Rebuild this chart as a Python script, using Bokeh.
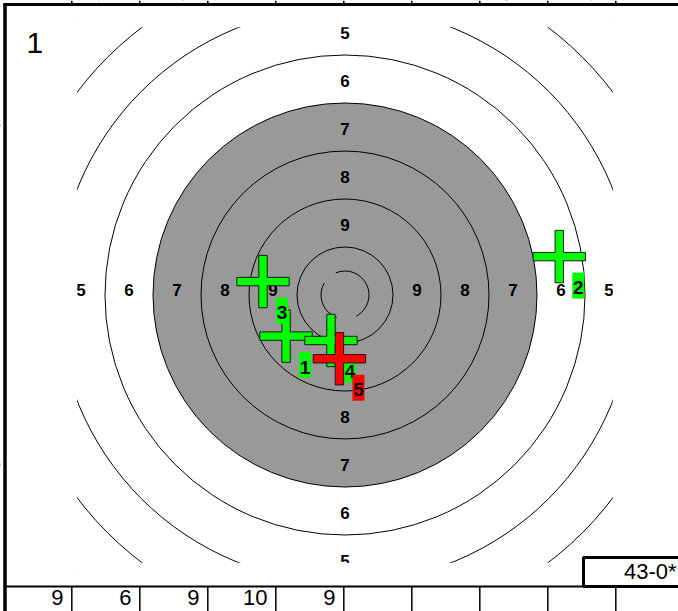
import numpy as np
from bokeh.plotting import figure
from bokeh.models import Range1d
from bokeh.core.properties import value
from bokeh.embed import file_html
from bokeh.resources import INLINE

# ---------------- data ----------------
series_label = "1"
ring_radii = [25, 50, 75, 125, 150, 175, 200]      # ring boundaries (mm)
black_radius = 100                                  # aiming black: rings 7-10 (mm)
inner_ten_radius = 12.5                             # mm
ring_values = [5, 6, 7, 8, 9]                       # ring numbers printed on the target
ring_label_dist = [137.5, 112.5, 87.5, 62.5, 37.5]  # mid-ring distances (mm)
shot_ids = [1, 2, 3, 4, 5]
shot_x = [-30.7, 111.6, -42.7, -7.3, -2.9]          # mm from centre
shot_y = [-21.4, 20.0, 7.0, -23.7, -33.2]
shot_scores = [9, 6, 9, 10, 9]
shot_colors = ["#00ff00", "#00ff00", "#00ff00", "#00ff00", "#ff0000"]
inner_tens = 0

# ---------------- geometry helpers (page pixels -> mm) ----------------
W, H = 678, 611
S = 1.92                 # pixels per mm
CX, CY = 344.5, 294.5    # target centre on the page
FIX = 0.4                # baseline correction (em) for the svg text renderer


def mx(px):
    return (px - CX) / S


def my(py):
    return (CY - py) / S


def base(py, size):
    """page-pixel baseline -> data y, corrected for the renderer."""
    return my(py - FIX * size)


FONT = value("Liberation Sans")

p = figure(width=W, height=H,
           x_range=Range1d(mx(0), mx(W)), y_range=Range1d(my(H), my(0)),
           output_backend="svg", toolbar_location=None, min_border=0,
           x_axis_location=None, y_axis_location=None,
           outline_line_color=None, background_fill_color="white",
           border_fill_color="white")
p.grid.grid_line_color = None

# aiming black (grey) and rings
p.circle(x=[0], y=[0], radius=black_radius, fill_color="#999999",
         line_color="black", line_width=1)
n = len(ring_radii)
p.circle(x=[0] * n, y=[0] * n, radius=ring_radii, fill_color=None,
         line_color="black", line_width=1)
p.arc(x=[0, 0], y=[0, 0], radius=inner_ten_radius,
      start_angle=[np.radians(-62), np.radians(150)],
      end_angle=[np.radians(112.5), np.radians(250)],
      direction="anticlock", line_color="black", line_width=1)

# ring numbers
LS = 17
lab_x, lab_y, lab_t = [], [], []
for v, d in zip(ring_values, ring_label_dist):
    for sgn in (-1, 1):                      # left / right
        lab_x.append(sgn * d)
        lab_y.append(base(CY + 2.0, LS))
        lab_t.append(str(v))
    for sgn in (1, -1):                      # top / bottom
        lab_x.append(0)
        lab_y.append(base(CY - sgn * d * S + 8.8, LS))
        lab_t.append(str(v))
p.text(x=lab_x, y=lab_y, text=lab_t, text_font=FONT, text_font_style="bold",
       text_font_size=f"{LS}px", text_align="center", text_baseline="alphabetic",
       text_color="black")

# clipping masks (target printed area is a square of +-139.5 mm)
L = 139.5
big = 400
p.quad(left=[-big, L, -L, -L], right=[-L, big, L, L],
       top=[big, big, big, -L], bottom=[-big, -big, L, -big],
       fill_color="white", line_color=None)

# frame
p.segment(x0=[mx(4.5)], y0=[my(3)], x1=[mx(4.5)], y1=[my(H + 5)],
          line_color="black", line_width=3.5)
p.segment(x0=[mx(3)], y0=[my(4)], x1=[mx(W + 5)], y1=[my(4)],
          line_color="black", line_width=3)
cell_w = 68
cell_edges = [71.3 + cell_w * k for k in range(9)]
p.segment(x0=[mx(e) for e in cell_edges], y0=[my(0)] * 9,
          x1=[mx(e) for e in cell_edges], y1=[my(4)] * 9,
          line_color="black", line_width=1.5)
p.segment(x0=[mx(4)], y0=[my(586)], x1=[mx(W + 5)], y1=[my(586)],
          line_color="black", line_width=2)
p.segment(x0=[mx(e) for e in cell_edges], y0=[my(586)] * 9,
          x1=[mx(e) for e in cell_edges], y1=[my(H + 5)] * 9,
          line_color="black", line_width=1.5)

# series number
p.text(x=[mx(26)], y=[base(54, 30)], text=[series_label], text_font=FONT,
       text_font_size="30px", text_align="left", text_baseline="alphabetic",
       text_color="black")

# shot scores in the table
p.text(x=[mx(cell_edges[k] - 8.3) for k in range(len(shot_scores))],
       y=[base(606, 22)] * len(shot_scores), text=[str(s) for s in shot_scores],
       text_font=FONT, text_font_size="22px", text_align="right",
       text_baseline="alphabetic", text_color="black")

# total box
p.quad(left=[mx(583)], right=[mx(W + 10)], top=[my(557)], bottom=[my(586)],
       fill_color="white", line_color="black", line_width=3)
p.text(x=[mx(676)], y=[base(580, 22)], text=[f"{sum(shot_scores)}-{inner_tens}*"],
       text_font=FONT, text_font_size="22px", text_align="right",
       text_baseline="alphabetic", text_color="black")

# shots: cross + numbered tag
a = 26.2 / S   # half arm length
t = 4.2 / S    # half bar thickness
cross_dx = [-t, t, t, a, a, t, t, -t, -t, -a, -a, -t]
cross_dy = [a, a, t, t, -t, -t, -a, -a, -t, -t, t, t]
for sid, sx, sy, col in zip(shot_ids, shot_x, shot_y, shot_colors):
    p.patch([sx + dx for dx in cross_dx], [sy + dy for dy in cross_dy],
            fill_color=col, line_color="#1a1a1a", line_width=1)
    p.quad(left=[sx + 13 / S], right=[sx + 25 / S],
           top=[sy - 16 / S], bottom=[sy - 42 / S],
           fill_color=col, line_color=None)
    p.text(x=[sx + 19 / S], y=[sy - (38.8 - FIX * 19) / S], text=[str(sid)],
           text_font=FONT, text_font_style="bold", text_font_size="19px",
           text_align="center", text_baseline="alphabetic", text_color="black")

open("out.html", "w").write(file_html(p, INLINE))
